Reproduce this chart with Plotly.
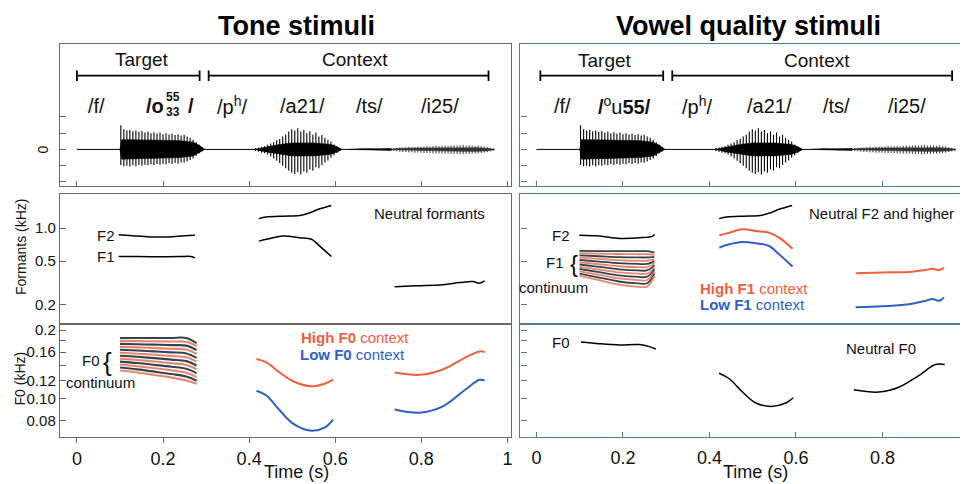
import plotly.graph_objects as go
import numpy as np

# The page body has an 8 px margin, so the figure is drawn 8 px smaller and
# every reference pixel position is shifted by that margin.
OFF = 8
W, H = 968 - OFF, 484 - OFF
FONT = "Liberation Sans, Arial, sans-serif"

# ---------------- data ----------------
time_ticks = [0, 0.2, 0.4, 0.6, 0.8, 1.0]
time_tick_labels = ["0", "0.2", "0.4", "0.6", "0.8", "1"]
wave_ticks = [-1, -0.5, 0, 0.5, 1]
formant_ticks = [0.2, 0.5, 1.0]
formant_tick_labels = ["0.2", "0.5", "1.0"]
f0_ticks = [0.08, 0.10, 0.12, 0.16, 0.2]
f0_tick_labels = ["0.08", "0.10", "0.12", "0.16", "0.2"]
f0_minor_ticks = [0.14, 0.18]

# segment brackets (s)
tone_target_span = [0.0, 0.285]
tone_context_span = [0.306, 0.956]
vq_target_span = [0.009, 0.293]
vq_context_span = [0.314, 0.961]
wave_baseline = [0.0, 0.97]

# waveform: glottal pulse peaks of the target vowel
wt_times = [0.102, 0.109, 0.116, 0.123, 0.130, 0.137, 0.144, 0.151, 0.158, 0.165, 0.172, 0.179, 0.186, 0.193,
            0.200, 0.207, 0.214, 0.221, 0.228, 0.235, 0.242, 0.249, 0.256, 0.263, 0.270, 0.277, 0.284, 0.291]
wt_up = [0.74, 0.62, 0.58, 0.60, 0.56, 0.58, 0.54, 0.57, 0.52, 0.55, 0.50, 0.53, 0.49, 0.52,
         0.47, 0.50, 0.46, 0.48, 0.44, 0.47, 0.43, 0.45, 0.40, 0.36, 0.30, 0.22, 0.14, 0.07]
wt_dn = [-0.48, -0.52, -0.50, -0.53, -0.49, -0.52, -0.48, -0.50, -0.47, -0.49, -0.46, -0.48, -0.45, -0.47,
         -0.44, -0.46, -0.43, -0.45, -0.42, -0.44, -0.40, -0.41, -0.37, -0.33, -0.28, -0.20, -0.12, -0.06]
wt_env_t = [0.100, 0.104, 0.12, 0.16, 0.20, 0.24, 0.27, 0.285, 0.297]
wt_env_up = [0.0, 0.30, 0.30, 0.29, 0.28, 0.27, 0.22, 0.12, 0.0]
wt_env_dn = [0.0, -0.30, -0.29, -0.28, -0.27, -0.25, -0.20, -0.10, 0.0]

# waveform: /a21/ pulses
wa_times = [0.415, 0.422, 0.429, 0.436, 0.443, 0.450, 0.457, 0.464, 0.471, 0.478, 0.485, 0.492, 0.499, 0.506, 0.513,
            0.520, 0.527, 0.534, 0.541, 0.548, 0.555, 0.562, 0.569, 0.576, 0.583, 0.590, 0.597, 0.604, 0.611]
wa_up = [0.04, 0.06, 0.08, 0.10, 0.14, 0.18, 0.22, 0.28, 0.32, 0.40, 0.45, 0.55, 0.62, 0.58, 0.65,
         0.55, 0.60, 0.50, 0.56, 0.45, 0.52, 0.40, 0.44, 0.36, 0.30, 0.24, 0.15, 0.08, 0.04]
wa_dn = [-0.05, -0.07, -0.10, -0.12, -0.16, -0.22, -0.28, -0.35, -0.42, -0.50, -0.58, -0.66, -0.72, -0.76, -0.70,
         -0.77, -0.68, -0.72, -0.62, -0.66, -0.55, -0.58, -0.48, -0.40, -0.34, -0.26, -0.18, -0.10, -0.05]
wa_env_t = [0.413, 0.44, 0.47, 0.50, 0.55, 0.59, 0.605, 0.615]
wa_env_up = [0.0, 0.08, 0.15, 0.20, 0.20, 0.15, 0.08, 0.0]
wa_env_dn = [0.0, -0.08, -0.15, -0.20, -0.20, -0.15, -0.08, 0.0]

# waveform: /ts/ envelope, /i25/ pulses and envelope
wts_env_t = [0.635, 0.66, 0.70, 0.73]
wts_env_up = [0.0, 0.02, 0.02, 0.03]
wts_env_dn = [0.0, -0.02, -0.02, -0.03]
wi_times = [0.736, 0.743, 0.750, 0.757, 0.764, 0.771, 0.778, 0.785, 0.792, 0.799, 0.806, 0.813, 0.820, 0.827,
            0.834, 0.841, 0.848, 0.855, 0.862, 0.869, 0.876, 0.883, 0.890, 0.897, 0.904, 0.911, 0.918, 0.925,
            0.932, 0.939, 0.946, 0.953, 0.960, 0.967]
wi_up = [0.04, 0.05, 0.06, 0.06, 0.07, 0.08, 0.07, 0.08, 0.09, 0.08, 0.09, 0.10, 0.09, 0.10,
         0.11, 0.10, 0.11, 0.12, 0.11, 0.12, 0.13, 0.12, 0.13, 0.14, 0.12, 0.13, 0.12, 0.11,
         0.12, 0.10, 0.09, 0.07, 0.05, 0.03]
wi_dn = [-0.05, -0.06, -0.07, -0.08, -0.08, -0.09, -0.09, -0.10, -0.10, -0.10, -0.11, -0.11, -0.11, -0.12,
         -0.12, -0.12, -0.13, -0.13, -0.13, -0.14, -0.14, -0.14, -0.15, -0.15, -0.14, -0.14, -0.13, -0.13,
         -0.12, -0.11, -0.10, -0.08, -0.06, -0.03]
wi_env_t = [0.733, 0.75, 0.80, 0.85, 0.90, 0.93, 0.955, 0.97]
wi_env_up = [0.01, 0.03, 0.04, 0.05, 0.05, 0.05, 0.03, 0.01]
wi_env_dn = [-0.01, -0.03, -0.04, -0.05, -0.06, -0.06, -0.04, -0.01]

# formants (kHz)
tone_f2_t = [0.097, 0.13, 0.17, 0.21, 0.25, 0.274]
tone_f2 = [0.87, 0.85, 0.83, 0.83, 0.85, 0.86]
tone_f1_t = [0.097, 0.14, 0.19, 0.24, 0.265, 0.274]
tone_f1 = [0.55, 0.55, 0.548, 0.55, 0.55, 0.535]
a_f2_t = [0.4225, 0.44, 0.479, 0.517, 0.541, 0.564, 0.591]
a_f2 = [1.22, 1.26, 1.285, 1.30, 1.38, 1.50, 1.61]
a_f1_t = [0.4225, 0.44, 0.479, 0.517, 0.545, 0.564, 0.591]
a_f1 = [0.76, 0.79, 0.845, 0.815, 0.79, 0.685, 0.55]
i_f1_t = [0.738, 0.788, 0.85, 0.889, 0.92, 0.935, 0.947]
i_f1 = [0.291, 0.297, 0.303, 0.318, 0.325, 0.314, 0.33]

vq_f2_t = [0.099, 0.146, 0.192, 0.238, 0.269, 0.273]
vq_f2 = [0.86, 0.845, 0.805, 0.815, 0.845, 0.875]
ctx_f1_a_t = [0.4226, 0.4457, 0.4765, 0.5073, 0.538, 0.561, 0.592]
hi_f1_a = [0.858, 0.907, 0.973, 0.939, 0.907, 0.817, 0.648]
lo_f1_a = [0.662, 0.711, 0.746, 0.726, 0.686, 0.576, 0.445]
ctx_f1_i_t = [0.738, 0.80, 0.861, 0.90, 0.915, 0.931, 0.942]
hi_f1_i = [0.387, 0.393, 0.398, 0.415, 0.424, 0.415, 0.433]
lo_f1_i = [0.189, 0.193, 0.202, 0.217, 0.225, 0.217, 0.233]

# F1 continuum (kHz): start, lowest, end values of each step
f1c_t = [0.0995, 0.145, 0.19, 0.235, 0.255, 0.2665, 0.2725]
f1c_fall = [0.0, 0.4, 0.8, 1.0, 1.0]
f1c_rise = [0.5, 1.0]
f1c_start = [0.618, 0.589, 0.562, 0.536, 0.511, 0.487, 0.465, 0.443, 0.423, 0.403, 0.384, 0.366]
f1c_low = [0.615, 0.577, 0.539, 0.503, 0.470, 0.439, 0.410, 0.383, 0.358, 0.334, 0.312, 0.291]
f1c_end = [0.596, 0.570, 0.545, 0.522, 0.499, 0.478, 0.457, 0.437, 0.418, 0.400, 0.383, 0.366]

# F0 (kHz)
ctx_f0_a_t = [0.417, 0.44, 0.471, 0.502, 0.5445, 0.575, 0.595]
hi_f0_a = [0.149, 0.144, 0.130, 0.119, 0.113, 0.116, 0.121]
lo_f0_a = [0.108, 0.103, 0.0886, 0.0774, 0.072, 0.0743, 0.0807]
ctx_f0_i_t = [0.738, 0.796, 0.85, 0.904, 0.935, 0.947]
hi_f0_i = [0.130, 0.127, 0.134, 0.152, 0.161, 0.160]
lo_f0_i = [0.0893, 0.0865, 0.0922, 0.110, 0.1207, 0.120]

n_f0_tgt_t = [0.103, 0.146, 0.192, 0.238, 0.261, 0.276]
n_f0_tgt = [0.177, 0.174, 0.172, 0.1725, 0.169, 0.165]
n_f0_a_t = [0.4222, 0.4457, 0.4765, 0.5073, 0.5419, 0.5766, 0.5935]
n_f0_a = [0.129, 0.122, 0.1066, 0.0954, 0.0922, 0.0954, 0.1007]
n_f0_i_t = [0.7337, 0.7914, 0.8376, 0.8838, 0.9222, 0.9438]
n_f0_i = [0.1092, 0.1066, 0.112, 0.126, 0.141, 0.141]

# F0 continuum (kHz)
f0c_t = [0.100, 0.14, 0.18, 0.22, 0.254, 0.278]
f0c_w = [0.0, 0.2, 0.45, 0.72, 1.0]
f0c_start = [0.1845, 0.1791, 0.1738, 0.1686, 0.1637, 0.1588, 0.1541, 0.1496, 0.1452, 0.1409, 0.1367, 0.1327]
f0c_pre = [0.1845, 0.1775, 0.1707, 0.1640, 0.1578, 0.1517, 0.1459, 0.1403, 0.1350, 0.1298, 0.1248, 0.1200]
f0c_end = [0.1750, 0.1697, 0.1632, 0.1568, 0.1509, 0.1451, 0.1396, 0.1343, 0.1292, 0.1243, 0.1196, 0.1160]

# ---------------- styles ----------------
RED = "#f0603f"
BLUE = "#2f5fc4"
CONT_COLORS = ["#37434c", "#e8866c"]
LEFT_FRAME = "#6f6561"
RIGHT_FRAME = "#4f7f8c"

fig = go.Figure()


def tr(x, y, ax, color="black", width=1.5, shape="spline", **kw):
    fig.add_trace(go.Scatter(x=x, y=y, xaxis="x" + ax, yaxis="y" + ax, mode="lines",
                             line=dict(color=color, width=width, shape=shape),
                             hoverinfo="skip", showlegend=False, **kw))


def spikes(t, up, dn, ax, color="black", width=1.1):
    xs, ys = [], []
    for a, b, c in zip(t, up, dn):
        xs += [a, a, None]
        ys += [c, b, None]
    tr(xs, ys, ax, color=color, width=width, shape="linear")


def envelope(t, up, dn, ax, color="black"):
    tr(list(t) + list(t[::-1]), list(up) + list(dn[::-1]), ax, color=color, width=0.6,
       shape="linear", fill="toself", fillcolor=color)


def bracket(span, ax, level=2.27, cap=0.16):
    a, b = span
    tr([a, b, None, a, a, None, b, b], [level, level, None, level - cap, level + cap, None, level - cap, level + cap],
       ax, width=1.8, shape="linear")


# waveforms (top panels)
for ax, tspan, cspan in (("", tone_target_span, tone_context_span), ("4", vq_target_span, vq_context_span)):
    tr(wave_baseline, [0, 0], ax, width=1, shape="linear")
    envelope(wts_env_t, wts_env_up, wts_env_dn, ax)
    envelope(wi_env_t, wi_env_up, wi_env_dn, ax, color="#333333")
    spikes(wi_times, wi_up, wi_dn, ax, color="#333333", width=1.0)
    envelope(wt_env_t, wt_env_up, wt_env_dn, ax)
    envelope(wa_env_t, wa_env_up, wa_env_dn, ax)
    spikes(wt_times, wt_up, wt_dn, ax)
    spikes(wa_times, wa_up, wa_dn, ax)
    bracket(tspan, ax)
    bracket(cspan, ax)

# formants, tone stimuli
tr(tone_f2_t, tone_f2, "2")
tr(tone_f1_t, tone_f1, "2")
tr(a_f2_t, a_f2, "2")
tr(a_f1_t, a_f1, "2")
tr(i_f1_t, i_f1, "2")

# F0, tone stimuli: continuum
for k in range(len(f0c_start)):
    ls, lp = np.log10(f0c_start[k]), np.log10(f0c_pre[k])
    ys = [10 ** (ls + w * (lp - ls)) for w in f0c_w] + [f0c_end[k]]
    tr(f0c_t, ys, "3", color=CONT_COLORS[k % 2], width=2.1)
tr(ctx_f0_a_t, hi_f0_a, "3", color=RED, width=2)
tr(ctx_f0_a_t, lo_f0_a, "3", color=BLUE, width=2)
tr(ctx_f0_i_t, hi_f0_i, "3", color=RED, width=2)
tr(ctx_f0_i_t, lo_f0_i, "3", color=BLUE, width=2)

# formants, vowel quality stimuli
tr(vq_f2_t, vq_f2, "5")
for k in range(len(f1c_start)):
    ls, ll, le = np.log10(f1c_start[k]), np.log10(f1c_low[k]), np.log10(f1c_end[k])
    ys = [10 ** (ls + w * (ll - ls)) for w in f1c_fall] + [10 ** (ll + w * (le - ll)) for w in f1c_rise]
    tr(f1c_t, ys, "5", color=CONT_COLORS[k % 2], width=1.8)
tr(a_f2_t, a_f2, "5")
tr(ctx_f1_a_t, hi_f1_a, "5", color=RED, width=2)
tr(ctx_f1_a_t, lo_f1_a, "5", color=BLUE, width=2)
tr(ctx_f1_i_t, hi_f1_i, "5", color=RED, width=2)
tr(ctx_f1_i_t, lo_f1_i, "5", color=BLUE, width=2)

# F0, vowel quality stimuli
tr(n_f0_tgt_t, n_f0_tgt, "6")
tr(n_f0_a_t, n_f0_a, "6")
tr(n_f0_i_t, n_f0_i, "6")


# ---------------- axes ----------------
def px(x):
    return (x - OFF) / W


def py(y):
    return 1 - (y - OFF) / H


L_DOM = [px(60), px(512)]
R_DOM = [px(521), 1.0]
L_RNG = [-0.0394, 1.0093]
R_RNG = [-0.037, 0.9954]
TOP = [py(185), py(42)]
MID = [py(323), py(193)]
BOT = [py(437), py(323)]


def xaxis(dom, rng, color, anchor, ticks="inside", labels=False, standoff=None):
    d = dict(domain=dom, range=rng, showline=True, mirror=True, linecolor=color, linewidth=1.4,
             showgrid=False, zeroline=False, tickvals=time_ticks, ticktext=time_tick_labels,
             ticks=ticks, ticklen=5, tickwidth=1.2, tickcolor=color, showticklabels=labels,
             tickfont=dict(family=FONT, size=18, color="#111"), anchor=anchor, fixedrange=True)
    if standoff is not None:
        d["ticklabelstandoff"] = standoff
    return d


def yaxis(dom, rng, color, anchor, vals, text=None, labels=False, log=False, minor=None):
    d = dict(domain=dom, range=rng, showline=True, mirror=True, linecolor=color, linewidth=1.4,
             showgrid=False, zeroline=False, tickvals=vals, ticks="inside", ticklen=6, tickwidth=1.2,
             tickcolor=color, showticklabels=labels, tickfont=dict(family=FONT, size=15, color="#111"),
             anchor=anchor, fixedrange=True)
    if text is not None:
        d["ticktext"] = text
    if log:
        d["type"] = "log"
    if minor is not None:
        d["minor"] = dict(tickvals=minor, ticks="inside", ticklen=6, tickwidth=1.2, tickcolor=color,
                          showgrid=False)
    return d


layout_axes = dict(
    xaxis=xaxis(L_DOM, L_RNG, LEFT_FRAME, "y"),
    yaxis=yaxis(TOP, [-1.135, 3.25], LEFT_FRAME, "x", wave_ticks),
    xaxis2=xaxis(L_DOM, L_RNG, LEFT_FRAME, "y2", ticks=""),
    yaxis2=yaxis(MID, [-0.873, 0.309], LEFT_FRAME, "x2", formant_ticks, formant_tick_labels, True, True),
    xaxis3=xaxis(L_DOM, L_RNG, LEFT_FRAME, "y3", ticks="outside", labels=True),
    yaxis3=yaxis(BOT, [-1.171, -0.671], LEFT_FRAME, "x3", f0_ticks, f0_tick_labels, True, True, f0_minor_ticks),
    xaxis4=xaxis(R_DOM, R_RNG, RIGHT_FRAME, "y4"),
    yaxis4=yaxis(TOP, [-1.135, 3.25], RIGHT_FRAME, "x4", wave_ticks),
    xaxis5=xaxis(R_DOM, R_RNG, RIGHT_FRAME, "y5", ticks=""),
    yaxis5=yaxis(MID, [-0.873, 0.309], RIGHT_FRAME, "x5", formant_ticks, None, False, True),
    xaxis6=xaxis(R_DOM, R_RNG, RIGHT_FRAME, "y6", ticks="inside", labels=True, standoff=4),
    yaxis6=yaxis(BOT, [-1.171, -0.671], RIGHT_FRAME, "x6", f0_ticks, None, False, True, f0_minor_ticks),
)

# ---------------- text ----------------
ann = []


def text(x, y, s, size=15, color="#111", xanchor="center", yanchor="middle", angle=0):
    ann.append(dict(x=px(x), y=py(y), xref="paper", yref="paper", text=s, showarrow=False,
                    font=dict(family=FONT, size=size, color=color), xanchor=xanchor, yanchor=yanchor,
                    textangle=angle))


text(297, 24, "<b>Tone stimuli</b>", size=27, color="#000")
text(749, 24, "<b>Vowel quality stimuli</b>", size=27, color="#000")

# segment labels
text(142, 58, "Target", size=19)
text(355, 58, "Context", size=19)
text(606, 59, "Target", size=19)
text(818, 59, "Context", size=19)

PH = 104
text(97, PH, "/f/", size=20)
text(166, PH, "<b>/o</b>", size=20, xanchor="right")
text(164, 95, "<b>55</b>", size=12, xanchor="left")
text(164, 110, "<b>33</b>", size=12, xanchor="left")
text(186, PH, "<b>/</b>", size=20, xanchor="left")
text(232, PH, "/p<sup>h</sup>/", size=20)
text(303, PH, "/a21/", size=20)
text(370, PH, "/ts/", size=20)
text(440, PH, "/i25/", size=20)

text(563, PH, "/f/", size=20)
text(625, PH, "<b>/</b><sup>o</sup>u<b>55/</b>", size=20)
text(698, PH, "/p<sup>h</sup>/", size=20)
text(770, PH, "/a21/", size=20)
text(837, PH, "/ts/", size=20)
text(908, PH, "/i25/", size=20)

text(43, 148, "0", size=14, angle=-90)
text(21, 246, "Formants (kHz)", size=14, angle=-90)
text(20, 378, "F0 (kHz)", size=14, angle=-90)

# formant labels
text(117, 234, "F2", size=15, xanchor="right")
text(117, 256, "F1", size=15, xanchor="right")
text(430, 212, "Neutral formants", size=15)
text(573, 234, "F2", size=15, xanchor="right")
text(556, 262, "F1", size=15)
text(575, 263, "{", size=24)
text(554, 287, "continuum", size=15)
text(882, 212, "Neutral F2 and higher", size=15)
text(755, 288, "<b>High F1</b> context", size=15, color=RED)
text(753, 304, "<b>Low F1</b> context", size=15, color=BLUE)

# F0 labels
text(91, 360, "F0", size=15)
text(108, 361, "{", size=26)
text(101, 382, "continuum", size=15)
text(355, 337, "<b>High F0</b> context", size=15, color=RED)
text(353, 354, "<b>Low F0</b> context", size=15, color=BLUE)
text(573, 342, "F0", size=15, xanchor="right")
text(882, 348, "Neutral F0", size=15)

text(297, 472, "Time (s)", size=18)
text(756, 472, "Time (s)", size=18)
text(965, 456, "1", size=18)

fig.update_layout(
    width=W, height=H, autosize=False,
    margin=dict(l=0, r=0, t=0, b=0),
    paper_bgcolor="white", plot_bgcolor="white",
    annotations=ann, showlegend=False,
    font=dict(family=FONT),
    **layout_axes,
)

fig.write_html("out.html")
